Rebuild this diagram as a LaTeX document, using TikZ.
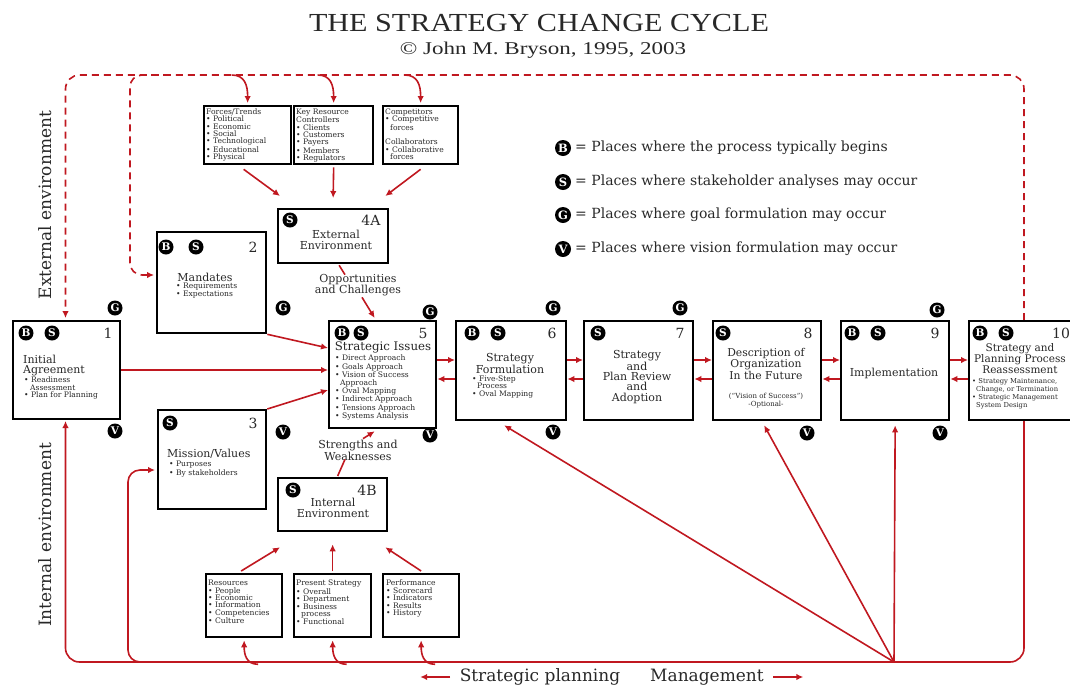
\documentclass[tikz,border=0pt]{standalone}
\usepackage{fontspec}
\usepackage{graphicx}
\setmainfont{DejaVu Serif}
\newfontfamily\tnr{Liberation Serif}
\usetikzlibrary{arrows.meta,calc}
\definecolor{cred}{RGB}{192,24,32}
\definecolor{txt}{RGB}{40,40,40}
\newcommand\myfs[2]{\fontsize{#1}{#2}\selectfont}
\newcommand\bx[5]{\node[box, minimum width=#4-#2, minimum height=#5-#3] (#1) at (#2,#3) {};}
\begin{document}
\begin{tikzpicture}[x=1pt,y=-1pt,
  box/.style={draw=black, line width=2.3pt, fill=white, inner sep=0pt, anchor=north west},
  bdg/.style={circle, fill=black, text=white, inner sep=0pt, minimum size=15pt, font=\myfs{10.5}{10.5}\bfseries},
  lbdg/.style={bdg, minimum size=16pt, font=\myfs{11.5}{11.5}\bfseries},
  num/.style={inner sep=0pt, text=txt, font=\myfs{14}{14}},
  hd/.style={inner sep=0pt, align=center, text=txt, font=\myfs{11}{10.3}},
  hdl/.style={inner sep=0pt, align=left, anchor=north west, text=txt, font=\myfs{11}{10.3}},
  bl/.style={inner sep=0pt, align=left, anchor=north west, text=txt, font=\myfs{7.6}{7.35}},
  sm/.style={inner sep=0pt, align=left, anchor=north west, text=txt, font=\myfs{6.8}{8}},
  lg/.style={inner sep=0pt, anchor=west, text=txt, font=\myfs{14}{14}},
  ln/.style={draw=cred, line width=1.6pt},
  arr/.style={ln, -{Latex[length=7pt,width=6.5pt]}},
  dsh/.style={ln, dash pattern=on 7pt off 5pt},
]
\useasboundingbox (0,0) rectangle (1070,689);

% ---------- title ----------
\node[font=\tnr\myfs{26}{26}, text=txt] (title) at (539,23) {\scalebox{1.16}[1]{THE STRATEGY CHANGE CYCLE}};
\node[font=\tnr\myfs{18}{18}, text=txt] (sub) at (543,50) {\scalebox{1.28}[1]{© John M. Bryson, 1995, 2003}};

% ---------- side labels ----------
\node[rotate=90, text=txt, font=\myfs{17}{17}] (ext) at (45,205) {External environment};
\node[rotate=90, text=txt, font=\myfs{17}{17}] (int) at (45,535) {Internal environment};

% ---------- red connectors (behind boxes) ----------
\draw[dsh, -{Latex[length=7pt,width=6.5pt]}, rounded corners=14pt] (1024,320) -- (1024,75) -- (65.5,75) -- (65.5,318);
\draw[dsh, -{Latex[length=7pt,width=6.5pt]}, rounded corners=12pt] (170,75) -- (130,75) -- (130,275) -- (154,275);
\draw[ln, -{Latex[length=7pt,width=6.5pt]}, rounded corners=14pt] (1024,419) -- (1024,662) -- (65.5,662) -- (65.5,421);
\draw[arr, rounded corners=12pt] (160,662) -- (128,662) -- (128,470) -- (155,470);
\coordinate (hub) at (894,662);

% ---------- boxes ----------
\bx{b1}{12}{320}{119}{418}
\bx{b2}{156}{231}{265}{332}
\bx{b3}{157}{409}{265}{508}
\bx{b4a}{277}{208}{387}{262}
\bx{b4b}{277}{477}{386}{530}
\bx{b5}{328}{320}{435}{427}
\bx{b6}{455}{320}{565}{419}
\bx{b7}{583}{320}{692}{419}
\bx{b8}{712}{320}{820}{419}
\bx{b9}{840}{320}{948}{419}
\bx{b10}{968}{320}{1085}{419}
\bx{t1}{203}{105}{290}{163}
\bx{t2}{293}{105}{372}{163}
\bx{t3}{382}{105}{457}{163}
\bx{u1}{205}{573}{281}{636}
\bx{u2}{293}{573}{370}{636}
\bx{u3}{382}{573}{458}{636}

% ---------- top / bottom small box texts ----------
\node[bl] (t1x) at (206,108.5) {Forces/Trends\\• Political\\• Economic\\• Social\\• Technological\\• Educational\\• Physical};
\node[bl] (t2x) at (296,108.5) {Key Resource\\Controllers\\• Clients\\• Customers\\• Payers\\• Members\\• Regulators};
\node[bl] (t3x) at (385,108.5) {Competitors\\• Competitive\\\hspace*{5pt}forces\\[7.35pt]Collaborators\\• Collaborative\\\hspace*{5pt}forces};
\node[bl] (u1x) at (208,580) {Resources\\• People\\• Economic\\• Information\\• Competencies\\• Culture};
\node[bl] (u2x) at (296,580) {Present Strategy\\• Overall\\• Department\\• Business\\\hspace*{5pt}process\\• Functional};
\node[bl] (u3x) at (386,580) {Performance\\• Scorecard\\• Indicators\\• Results\\• History};

% ---------- box 1 ----------
\node[bdg] (b1B) at (26,333) {B};
\node[bdg] (b1S) at (52,333) {S};
\node[num] (b1n) at (108,333) {1};
\node[hdl] (b1h) at (23,355) {Initial\\Agreement};
\node[bl] (b1l) at (24,377) {• Readiness\\\hspace*{6pt}Assessment\\• Plan for Planning};
\node[bdg] (b1G) at (115,308) {G};
\node[bdg] (b1V) at (115,431) {V};

% ---------- box 2 ----------
\node[bdg] (b2B) at (166,247) {B};
\node[bdg] (b2S) at (196,247) {S};
\node[num] (b2n) at (253,247) {2};
\node[hd] (b2h) at (205,277) {Mandates};
\node[bl] (b2l) at (176,283) {• Requirements\\• Expectations};
\node[bdg] (b2G) at (283,308) {G};

% ---------- box 3 ----------
\node[bdg] (b3S) at (170,423) {S};
\node[num] (b3n) at (253,423) {3};
\node[hdl] (b3h) at (167,449) {Mission/Values};
\node[bl] (b3l) at (169,461) {• Purposes\\• By stakeholders};
\node[bdg] (b3V) at (283,432) {V};

% ---------- 4A / 4B ----------
\node[bdg] (b4aS) at (290,220) {S};
\node[num] (b4an) at (371,220) {4A};
\node[hd] (b4ah) at (336,240) {External\\Environment};
\node[bdg] (b4bS) at (293,490) {S};
\node[num] (b4bn) at (367,490) {4B};
\node[hd] (b4bh) at (333,508) {Internal\\Environment};
\node[hd] (opp) at (358,285) {Opportunities\\and Challenges};
\node[hd] (sw) at (358,450) {Strengths and\\Weaknesses};

% ---------- box 5 ----------
\node[bdg] (b5B) at (342,333) {B};
\node[bdg] (b5S) at (361,333) {S};
\node[num] (b5n) at (423,333) {5};
\node[hd, font=\myfs{11.8}{11.8}] (b5h) at (383,347.5) {Strategic Issues};
\node[bl] (b5l) at (335,355) {• Direct Approach\\• Goals Approach\\• Vision of Success\\\hspace*{5pt}Approach\\• Oval Mapping\\• Indirect Approach\\• Tensions Approach\\• Systems Analysis};
\node[bdg] (b5G) at (430,312) {G};
\node[bdg] (b5V) at (430,435) {V};

% ---------- box 6 ----------
\node[bdg] (b6B) at (472,333) {B};
\node[bdg] (b6S) at (498,333) {S};
\node[num] (b6n) at (552,333) {6};
\node[hd] (b6h) at (510,363.5) {Strategy\\Formulation};
\node[bl] (b6l) at (472,375.5) {• Five-Step\\\hspace*{5pt}Process\\• Oval Mapping};
\node[bdg] (b6G) at (553,308) {G};
\node[bdg] (b6V) at (553,432) {V};

% ---------- box 7 ----------
\node[bdg] (b7S) at (598,333) {S};
\node[num] (b7n) at (680,333) {7};
\node[hd] (b7h) at (637,377) {Strategy\\and\\Plan Review\\and\\Adoption};
\node[bdg] (b7G) at (680,308) {G};

% ---------- box 8 ----------
\node[bdg] (b8S) at (723,333) {S};
\node[num] (b8n) at (808,333) {8};
\node[hd, font=\myfs{10.8}{9.3}] (b8h) at (766,364) {Description of\\Organization\\In the Future};
\node[hd, font=\myfs{7}{8}] (b8s) at (766,401) {(“Vision of Success”)\\-Optional-};
\node[bdg] (b8V) at (807,433) {V};

% ---------- box 9 ----------
\node[bdg] (b9B) at (852,333) {B};
\node[bdg] (b9S) at (878,333) {S};
\node[num] (b9n) at (935,333) {9};
\node[hd] (b9h) at (894,373) {Implementation};
\node[bdg] (b9G) at (937,310) {G};
\node[bdg] (b9V) at (940,433) {V};

% ---------- box 10 ----------
\node[bdg] (b10B) at (980,333) {B};
\node[bdg] (b10S) at (1006,333) {S};
\node[num] (b10n) at (1061,333) {10};
\node[hd, font=\myfs{10.5}{9.2}] (b10h) at (1020,358.5) {Strategy and\\Planning Process\\Reassessment};
\node[sm] (b10l) at (972,378.5) {• Strategy Maintenance,\\\hspace*{4pt}Change, or Termination\\• Strategic Management\\\hspace*{4pt}System Design};

% ---------- legend ----------
\node[lbdg] (lB) at (563,148) {B};
\node[lg] (lBt) at (575,148) {= Places where the process typically begins};
\node[lbdg] (lS) at (563,182) {S};
\node[lg] (lSt) at (575,182) {= Places where stakeholder analyses may occur};
\node[lbdg] (lG) at (563,215) {G};
\node[lg] (lGt) at (575,215) {= Places where goal formulation may occur};
\node[lbdg] (lV) at (563,249) {V};
\node[lg] (lVt) at (575,249) {= Places where vision formulation may occur};

% ---------- bottom text ----------
\node[text=txt, font=\myfs{17}{17}] (sp) at (540,677) {Strategic planning};
\node[text=txt, font=\myfs{17}{17}] (mg) at (707,677) {Management};
\draw[arr] ($(sp.west)+(-6,0)$) -- ++(-30,0);
\draw[arr] ($(mg.east)+(6,0)$) -- ++(30,0);

% ---------- connectors between nodes ----------
\foreach \t in {t1,t2,t3}{
  \draw[arr] ($(\t.north)+(-16,-30)$) .. controls ($(\t.north)+(-3,-30)$) and ($(\t.north)+(0,-20)$) .. ($(\t.north)+(0,-2)$);
}
\foreach \u in {u1,u2,u3}{
  \draw[arr] ($(\u.south)+(14,26)$) .. controls ($(\u.south)+(2,26)$) and ($(\u.south)+(0,16)$) .. ($(\u.south)+(0,2)$);
}
\draw[arr] ($(t1.south)+(-4,4)$) -- ($(b4a.north west)+(3,-12)$);
\draw[arr] ($(t2.south)+(0,2)$) -- ($(b4a.north)+(0,-10)$);
\draw[arr] ($(t3.south)+(0,4)$) -- ($(b4a.north east)+(-4,-12)$);
\draw[arr] ($(u1.north)+(-3,-2)$) -- ($(b4b.south west)+(3,15)$);
\draw[arr] ($(u2.north)+(0,-2)$) -- ($(b4b.south)+(0,12)$);
\draw[arr] ($(u3.north)+(0,-2)$) -- ($(b4b.south east)+(-3,15)$);
\draw[ln] ($(b4a.south)+(6,1)$) -- ($(opp.north)+(-13,1)$);
\draw[arr] ($(opp.south)+(4,1)$) -- ($(b5.north)+(-8,-2)$);
\draw[ln] ($(b4b.north)+(5,-1)$) -- ($(sw.south)+(-13,-1)$);
\draw[arr] ($(sw.north)+(5,-1)$) -- ($(b5.south)+(-8,2)$);
\draw[arr] (b2.south east) -- (b5.west |- 0,348);
\draw[arr] (b1.east |- 0,370) -- (b5.west |- 0,370);
\draw[arr] (b3.north east) -- (b5.west |- 0,390);
\foreach \a/\b in {b5/b6,b6/b7,b7/b8,b8/b9,b9/b10}{
  \draw[arr] (\a.east |- 0,360) -- (\b.west |- 0,360);
  \draw[arr] (\b.west |- 0,379) -- (\a.east |- 0,379);
}
\draw[arr] (hub) -- ($(b6.south)+(-7,4)$);
\draw[arr] (hub) -- ($(b8.south)+(-3,4)$);
\draw[arr] (hub) -- ($(b9.south)+(0,4)$);

\end{tikzpicture}
\end{document}
